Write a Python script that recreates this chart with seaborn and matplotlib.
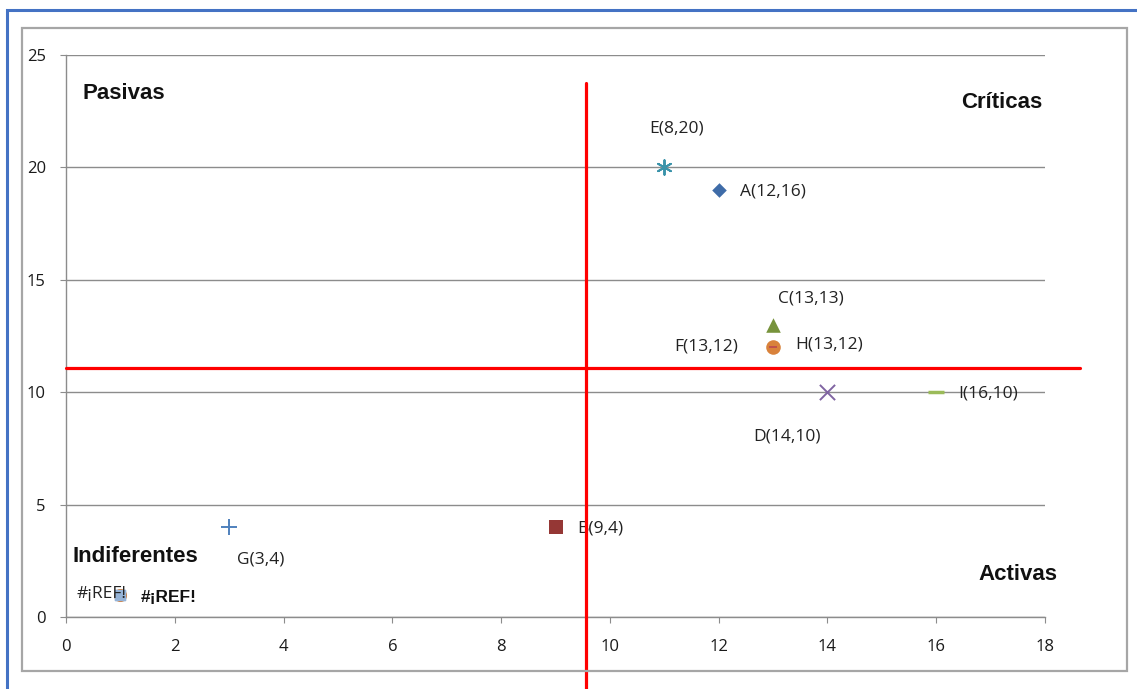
import numpy as np
import pandas as pd
import matplotlib.pyplot as plt
import seaborn as sns
from matplotlib.patches import Rectangle

# data
names = ['A', 'B', 'C', 'D', 'E', 'H', 'F', 'I', 'G']
xs = [12, 9, 13, 14, 11, 13, 13, 16, 3]
ys = [19, 4, 13, 10, 20, 12, 12, 10, 4]
labels = ['A(12,16)', 'B(9,4)', 'C(13,13)', 'D(14,10)', 'E(8,20)',
          'H(13,12)', 'F(13,12)', 'I(16,10)', 'G(3,4)']
ref_x, ref_y = [1, 1], [1, 1]
ref_labels = ['#¡REF!', '#¡REF!']

# quadrant dividers
x_cut, y_cut = 9.56, 11.08

df = pd.DataFrame({'name': names, 'x': xs, 'y': ys, 'label': labels})

colors = {'A': '#3F6CA8', 'B': '#953735', 'C': '#77933C', 'D': '#8064A2',
          'E': '#3A93AA', 'H': '#D9823B', 'F': '#C0504D', 'I': '#9BBB59',
          'G': '#4F81BD'}
markers = {'A': 'D', 'B': 's', 'C': '^', 'D': 'x', 'E': (6, 2, 0),
           'H': 'o', 'F': '_', 'I': '_', 'G': '+'}
sizes = {'A': 55, 'B': 110, 'C': 110, 'D': 120, 'E': 110, 'H': 110,
         'F': 30, 'I': 120, 'G': 130}
# label offsets in points (dx, dy, ha)
offsets = {'A': (15, -1.5, 'left'), 'B': (16, -1, 'left'),
           'C': (27, 19, 'center'), 'D': (-29, -32, 'center'),
           'E': (9, 28, 'center'), 'H': (16, 2, 'left'),
           'F': (-25, 0.5, 'right'), 'I': (16, -1, 'left'),
           'G': (23, -23, 'center')}

sns.set_style('white')
plt.rcParams['font.family'] = ['Open Sans', 'DejaVu Sans']

fig = plt.figure(figsize=(11.37, 6.89), dpi=100)
ax = fig.add_axes([66 / 1137, 1 - 617 / 689, 979 / 1137, 562 / 689])

# frames around the chart
fig.patches.append(Rectangle((7 / 1137, -0.05), 1.2, 1 - 10 / 689 + 0.05,
                             transform=fig.transFigure, fill=False,
                             edgecolor='#4472C4', lw=2.2))
fig.patches.append(Rectangle((22 / 1137, 1 - 671 / 689), 1105 / 1137, 643 / 689,
                             transform=fig.transFigure, fill=False,
                             edgecolor='#A6A6A6', lw=1.6))

ax.set_xlim(0, 18)
ax.set_ylim(0, 25)
ax.set_xticks(range(0, 19, 2))
ax.set_yticks(range(0, 26, 5))
ax.yaxis.grid(True, color='#8C8C8C', lw=1)
ax.set_axisbelow(True)
for s in ['top', 'right']:
    ax.spines[s].set_visible(False)
for s in ['left', 'bottom']:
    ax.spines[s].set_color('#8C8C8C')
    ax.spines[s].set_linewidth(1)
ax.tick_params(axis='x', direction='out', length=4.5, color='#8C8C8C',
               pad=11, labelsize=12, labelcolor='#1A1A1A', bottom=True)
ax.tick_params(axis='y', direction='out', length=4.5, color='#8C8C8C',
               pad=10, labelsize=12, labelcolor='#1A1A1A', left=True)

# #¡REF! points
ax.scatter(ref_x, ref_y, marker='o', s=70, color='#E46C0A', alpha=0.7, zorder=3)
ax.scatter(ref_x, ref_y, marker='s', s=45, color='#95B3D7', zorder=4)
ax.annotate(ref_labels[0], (ref_x[0], ref_y[0]), xytext=(-14, 0.5),
            textcoords='offset points', ha='center', va='center', fontsize=12.5,
            color='#222222', zorder=5)
ax.annotate(ref_labels[1], (ref_x[1], ref_y[1]), xytext=(35, -2.5),
            textcoords='offset points', ha='center', va='center', fontsize=12.5,
            fontweight='bold', color='#111111', zorder=5,
            family=['Liberation Sans', 'DejaVu Sans'])

for name in names:
    sub = df[df['name'] == name]
    lw = 1.4 if name in ('D', 'E', 'G', 'I', 'F') else 0
    sns.scatterplot(data=sub, x='x', y='y', marker=markers[name],
                    color=colors[name], s=sizes[name], linewidth=lw,
                    edgecolor=colors[name] if lw == 0 else None,
                    ax=ax, zorder=4, legend=False)
    if name == 'I':
        ax.collections[-1].set_linewidth(2.5)
    dx, dy, ha = offsets[name]
    ax.annotate(sub['label'].iloc[0], (sub['x'].iloc[0], sub['y'].iloc[0]),
                xytext=(dx, dy), textcoords='offset points', ha=ha, va='center',
                fontsize=12.5, color='#222222', zorder=5)

ax.set_xlabel('')
ax.set_ylabel('')

# quadrant divider lines (extend beyond the plot area)
ax.plot([x_cut, x_cut], [-3.3, 23.75], color='#FF0000', lw=2.3,
        clip_on=False, zorder=6)
ax.plot([0, 18.64], [y_cut, y_cut], color='#FF0000', lw=2.3,
        clip_on=False, zorder=6)

# quadrant names
qfont = dict(fontsize=16, fontweight='bold', color='#111111',
             family=['Liberation Sans', 'DejaVu Sans'], va='center',
             transform=ax.transAxes)
ax.text(0.017, 0.932, 'Pasivas', ha='left', **qfont)
ax.text(0.997, 0.916, 'Críticas', ha='right', **qfont)
ax.text(0.007, 0.107, 'Indiferentes', ha='left', **qfont)
ax.text(1.013, 0.075, 'Activas', ha='right', **qfont)

fig.savefig('out.png', dpi=100)
